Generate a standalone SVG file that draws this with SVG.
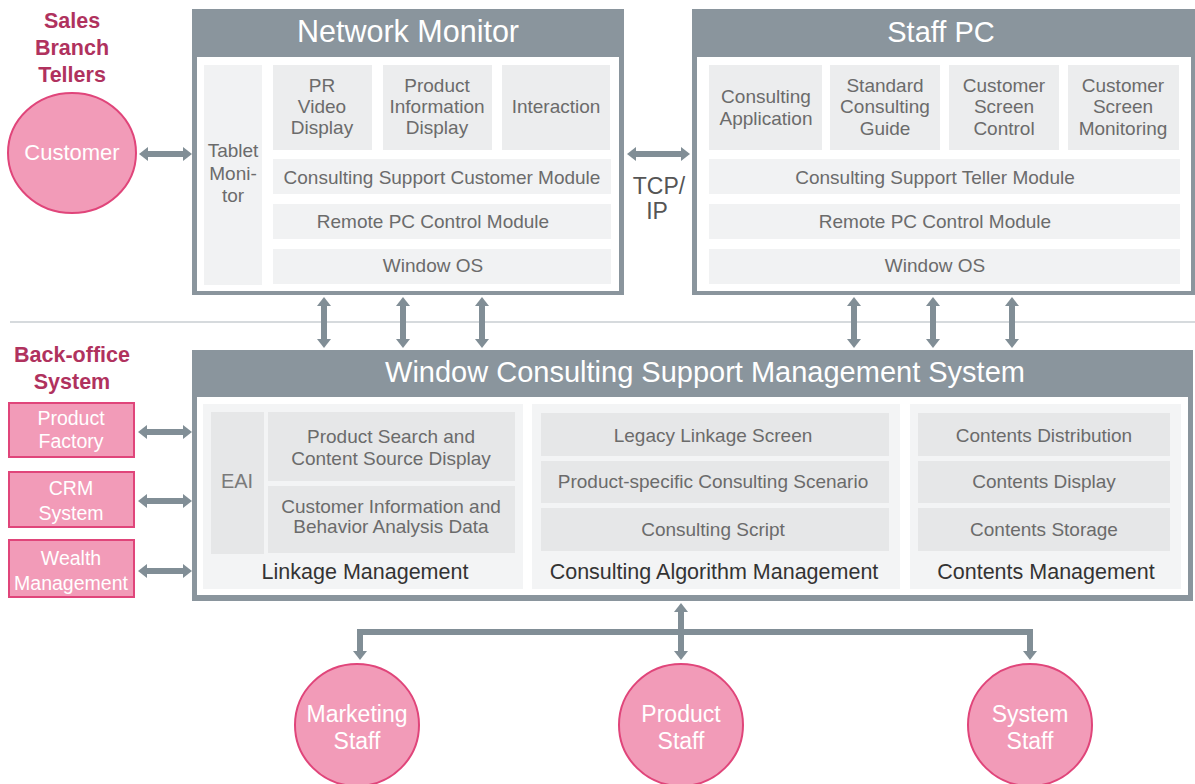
<svg xmlns="http://www.w3.org/2000/svg" width="1195" height="784" viewBox="0 0 1195 784">
  <style>
    .frame { fill: #8a959d; }
    .body { fill: #ffffff; }
    .cell { fill: #ecedee; }
    .row { fill: #f1f2f3; }
    .panel { fill: #f3f4f5; }
    .sub { fill: #e6e7e8; }
    text { font-family: "Liberation Sans", Arial, sans-serif; text-anchor: middle; }
    .t { font-size: 19px; fill: #6b6b6b; }
    .ttl { font-size: 29px; fill: #ffffff; }
    .lbl { font-size: 21.5px; fill: #333333; }
    .sec { font-size: 21.5px; font-weight: bold; fill: #b0325e; }
    .pink { fill: #f29bb8; stroke: #e0457a; stroke-width: 2; }
    .pt { font-size: 19.5px; fill: #ffffff; }
    .pc { font-size: 23px; fill: #ffffff; }
    .arr { fill: none; stroke: #818e96; stroke-width: 6; stroke-linejoin: miter; marker-start: url(#head); marker-end: url(#head); }
  </style>
  <defs>
    <marker id="head" markerUnits="userSpaceOnUse" markerWidth="10" markerHeight="16" viewBox="0 -8 10 16" refX="0" refY="0" orient="auto-start-reverse">
      <path d="M0,-7 L9,0 L0,7 Z" fill="#818e96"/>
    </marker>
  </defs>

  <!-- section captions -->
  <g id="caption-sales">
    <text class="sec" x="72" y="28">Sales</text>
    <text class="sec" x="72" y="55">Branch</text>
    <text class="sec" x="72" y="82">Tellers</text>
  </g>
  <g id="caption-backoffice">
    <text class="sec" x="72" y="362">Back-office</text>
    <text class="sec" x="72" y="389">System</text>
  </g>

  <!-- divider -->
  <line x1="10" y1="322" x2="1195" y2="322" stroke="#d6dadd" stroke-width="2"/>

  <!-- connectors -->
  <g id="connectors">
    <path class="arr" d="M148,154 H183"/>
    <path class="arr" d="M636,154 H681"/>
    <path class="arr" d="M324,306 V339"/>
    <path class="arr" d="M403,306 V339"/>
    <path class="arr" d="M482,306 V339"/>
    <path class="arr" d="M854,306 V339"/>
    <path class="arr" d="M933,306 V339"/>
    <path class="arr" d="M1012,306 V339"/>
    <path class="arr" d="M147,432 H183"/>
    <path class="arr" d="M147,501 H183"/>
    <path class="arr" d="M147,571 H183"/>
    <path class="arr" d="M681,612 V651"/>
    <path class="arr" d="M360,651 V632 H1030 V651"/>
  </g>

  <!-- customer -->
  <g id="customer">
    <ellipse class="pink" cx="72" cy="153" rx="64" ry="60"/>
    <text x="72" y="160" style="font-size:22px; fill:#fff">Customer</text>
  </g>

  <!-- network monitor -->
  <g id="network-monitor">
    <rect class="frame" x="192" y="9" width="432" height="286"/>
    <rect class="body" x="197" y="57" width="422" height="234"/>
    <text class="ttl" x="408" y="42" style="font-size:30.5px">Network Monitor</text>
    <rect class="row" x="204" y="65" width="58" height="220"/>
    <text class="t" x="233" y="157">Tablet</text>
    <text class="t" x="233" y="180">Moni-</text>
    <text class="t" x="233" y="202">tor</text>
    <rect class="cell" x="273" y="65" width="99" height="85"/>
    <text class="t" x="322" y="92">PR</text>
    <text class="t" x="322" y="113">Video</text>
    <text class="t" x="322" y="134">Display</text>
    <rect class="cell" x="383" y="65" width="109" height="85"/>
    <text class="t" x="437" y="92">Product</text>
    <text class="t" x="437" y="113">Information</text>
    <text class="t" x="437" y="134">Display</text>
    <rect class="cell" x="502" y="65" width="108" height="85"/>
    <text class="t" x="556" y="113">Interaction</text>
    <rect class="row" x="273" y="159" width="338" height="35"/>
    <text class="t" x="442" y="184">Consulting Support Customer Module</text>
    <rect class="row" x="273" y="204" width="338" height="35"/>
    <text class="t" x="433" y="228">Remote PC Control Module</text>
    <rect class="row" x="273" y="249" width="338" height="35"/>
    <text class="t" x="433" y="272">Window OS</text>
  </g>

  <!-- TCP/IP label -->
  <g id="tcpip">
    <text x="659" y="194" style="font-size:23px; fill:#555">TCP/</text>
    <text x="657" y="219" style="font-size:23px; fill:#555">IP</text>
  </g>

  <!-- staff pc -->
  <g id="staff-pc">
    <rect class="frame" x="692" y="9" width="503" height="286"/>
    <rect class="body" x="697" y="57" width="494" height="234"/>
    <text class="ttl" x="941" y="42">Staff PC</text>
    <rect class="cell" x="709" y="65" width="113" height="85"/>
    <text class="t" x="766" y="103">Consulting</text>
    <text class="t" x="766" y="125">Application</text>
    <rect class="cell" x="830" y="65" width="110" height="85"/>
    <text class="t" x="885" y="92">Standard</text>
    <text class="t" x="885" y="113">Consulting</text>
    <text class="t" x="885" y="135">Guide</text>
    <rect class="cell" x="949" y="65" width="110" height="85"/>
    <text class="t" x="1004" y="92">Customer</text>
    <text class="t" x="1004" y="113">Screen</text>
    <text class="t" x="1004" y="135">Control</text>
    <rect class="cell" x="1068" y="65" width="111" height="85"/>
    <text class="t" x="1123" y="92">Customer</text>
    <text class="t" x="1123" y="113">Screen</text>
    <text class="t" x="1123" y="135">Monitoring</text>
    <rect class="row" x="709" y="159" width="471" height="35"/>
    <text class="t" x="935" y="184">Consulting Support Teller Module</text>
    <rect class="row" x="709" y="204" width="471" height="35"/>
    <text class="t" x="935" y="228">Remote PC Control Module</text>
    <rect class="row" x="709" y="249" width="471" height="35"/>
    <text class="t" x="935" y="272">Window OS</text>
  </g>

  <!-- management system -->
  <g id="management-system">
    <rect class="frame" x="192" y="350" width="1001" height="251"/>
    <rect class="body" x="197" y="397" width="991" height="198"/>
    <text class="ttl" x="705" y="382">Window Consulting Support Management System</text>

    <rect class="panel" x="203" y="404" width="320" height="185"/>
    <rect class="sub" x="211" y="412" width="53" height="142"/>
    <text x="237" y="488" style="font-size:20px; fill:#7a7a7a">EAI</text>
    <rect class="sub" x="268" y="412" width="247" height="69"/>
    <text class="t" x="391" y="443">Product Search and</text>
    <text class="t" x="391" y="465">Content Source Display</text>
    <rect class="sub" x="268" y="486" width="247" height="67"/>
    <text class="t" x="391" y="513">Customer Information and</text>
    <text class="t" x="391" y="533">Behavior Analysis Data</text>
    <text class="lbl" x="365" y="579">Linkage Management</text>

    <rect class="panel" x="532" y="404" width="368" height="185"/>
    <rect class="sub" x="541" y="413" width="348" height="43"/>
    <text class="t" x="713" y="442">Legacy Linkage Screen</text>
    <rect class="sub" x="541" y="461" width="348" height="42"/>
    <text class="t" x="713" y="488">Product-specific Consulting Scenario</text>
    <rect class="sub" x="541" y="508" width="348" height="43"/>
    <text class="t" x="713" y="536">Consulting Script</text>
    <text class="lbl" x="714" y="579">Consulting Algorithm Management</text>

    <rect class="panel" x="910" y="404" width="271" height="185"/>
    <rect class="sub" x="918" y="413" width="252" height="43"/>
    <text class="t" x="1044" y="442">Contents Distribution</text>
    <rect class="sub" x="918" y="461" width="252" height="42"/>
    <text class="t" x="1044" y="488">Contents Display</text>
    <rect class="sub" x="918" y="508" width="252" height="43"/>
    <text class="t" x="1044" y="536">Contents Storage</text>
    <text class="lbl" x="1046" y="579">Contents Management</text>
  </g>

  <!-- back-office systems -->
  <g id="product-factory">
    <rect class="pink" x="9" y="403" width="125" height="54"/>
    <text class="pt" x="71" y="425">Product</text>
    <text class="pt" x="71" y="448">Factory</text>
  </g>
  <g id="crm-system">
    <rect class="pink" x="9" y="472" width="125" height="55"/>
    <text class="pt" x="71" y="495">CRM</text>
    <text class="pt" x="71" y="520">System</text>
  </g>
  <g id="wealth-management">
    <rect class="pink" x="9" y="540" width="125" height="57"/>
    <text class="pt" x="71" y="565">Wealth</text>
    <text class="pt" x="71" y="590">Management</text>
  </g>

  <!-- staff -->
  <g id="marketing-staff">
    <ellipse class="pink" cx="357" cy="725" rx="62" ry="61"/>
    <text class="pc" x="357" y="722">Marketing</text>
    <text class="pc" x="357" y="749">Staff</text>
  </g>
  <g id="product-staff">
    <ellipse class="pink" cx="681" cy="725" rx="62" ry="61"/>
    <text class="pc" x="681" y="722">Product</text>
    <text class="pc" x="681" y="749">Staff</text>
  </g>
  <g id="system-staff">
    <ellipse class="pink" cx="1030" cy="725" rx="62" ry="61"/>
    <text class="pc" x="1030" y="722">System</text>
    <text class="pc" x="1030" y="749">Staff</text>
  </g>
</svg>
